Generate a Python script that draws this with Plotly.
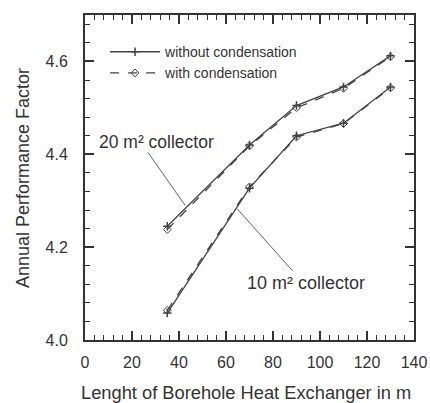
import plotly.graph_objects as go

lengths = [35, 70, 90, 110, 130]
apf_20_without = [4.245, 4.42, 4.505, 4.545, 4.612]
apf_20_with = [4.238, 4.418, 4.50, 4.542, 4.610]
apf_10_without = [4.058, 4.327, 4.44, 4.467, 4.545]
apf_10_with = [4.064, 4.330, 4.437, 4.466, 4.543]

x_ticks = [0, 20, 40, 60, 80, 100, 120, 140]
y_ticks = [4.0, 4.2, 4.4, 4.6]

line_col = "#444444"
txt_col = "#333333"
font_fam = "Liberation Sans, Arial, sans-serif"

fig = go.Figure()
fig.add_trace(go.Scatter(x=lengths, y=apf_20_without, mode="lines+markers",
                         name="without condensation",
                         line=dict(color=line_col, width=1.3),
                         marker=dict(symbol="cross-thin", size=6, line=dict(color=line_col, width=1.5))))
fig.add_trace(go.Scatter(x=lengths, y=apf_20_with, mode="lines+markers",
                         name="with condensation",
                         line=dict(color=line_col, width=1.3, dash="dash"),
                         marker=dict(symbol="diamond-open", size=6, color=line_col, line=dict(width=1))))
fig.add_trace(go.Scatter(x=lengths, y=apf_10_without, mode="lines+markers",
                         showlegend=False,
                         line=dict(color=line_col, width=1.3),
                         marker=dict(symbol="cross-thin", size=6, line=dict(color=line_col, width=1.5))))
fig.add_trace(go.Scatter(x=lengths, y=apf_10_with, mode="lines+markers",
                         showlegend=False,
                         line=dict(color=line_col, width=1.3, dash="dash"),
                         marker=dict(symbol="diamond-open", size=6, color=line_col, line=dict(width=1))))

# leader lines and labels
fig.add_shape(type="line", x0=26.8, y0=4.404, x1=42.6, y1=4.29,
              line=dict(color="#666666", width=1))
fig.add_shape(type="line", x0=88.5, y0=4.148, x1=64.7, y1=4.283,
              line=dict(color="#666666", width=1))
fig.add_annotation(x=30.6, y=4.426, text="20 m² collector", showarrow=False,
                   font=dict(size=17.5, color=txt_col, family=font_fam))
fig.add_annotation(x=94.2, y=4.122, text="10 m² collector", showarrow=False,
                   font=dict(size=18, color=txt_col, family=font_fam))

# axis titles
fig.add_annotation(xref="paper", yref="paper", x=0.49, y=-0.16, yanchor="middle",
                   text="Lenght of Borehole Heat Exchanger in m", showarrow=False,
                   font=dict(size=18.3, color=txt_col, family=font_fam))
fig.add_annotation(xref="paper", yref="paper", x=-0.19, y=0.5, xanchor="center",
                   textangle=-90, text="Annual Performance Factor", showarrow=False,
                   font=dict(size=18, color=txt_col, family=font_fam))

axis_common = dict(
    showline=True, linecolor=txt_col, linewidth=2, mirror="ticks",
    ticks="inside", ticklen=9, tickwidth=1.5, tickcolor=txt_col,
    showgrid=False, zeroline=False, automargin=False,
    tickfont=dict(size=16, color=txt_col, family=font_fam),
)

fig.update_xaxes(range=[0, 140], tickvals=x_ticks, ticklabelstandoff=7,
                 minor=dict(dtick=4, tick0=0, ticks="inside", ticklen=5, tickwidth=1.2, tickcolor=txt_col),
                 **axis_common)
fig.update_yaxes(range=[4.0, 4.7], tickvals=y_ticks, tickformat=".1f", ticklabelstandoff=12,
                 minor=dict(dtick=0.04, tick0=4.0, ticks="inside", ticklen=5, tickwidth=1.2, tickcolor=txt_col),
                 **axis_common)

fig.update_layout(
    width=430, height=403,
    margin=dict(l=85, r=16, t=15, b=63, autoexpand=False),
    paper_bgcolor="white", plot_bgcolor="white",
    legend=dict(x=0.061, y=0.935, xanchor="left", yanchor="top",
                bgcolor="rgba(0,0,0,0)", tracegroupgap=0, itemwidth=50,
                font=dict(size=14, color=txt_col, family=font_fam)),
    font=dict(family=font_fam),
)

fig.write_html("out.html", config={"displayModeBar": False},
               post_script="document.body.style.margin='0';document.body.style.overflow='hidden';")
